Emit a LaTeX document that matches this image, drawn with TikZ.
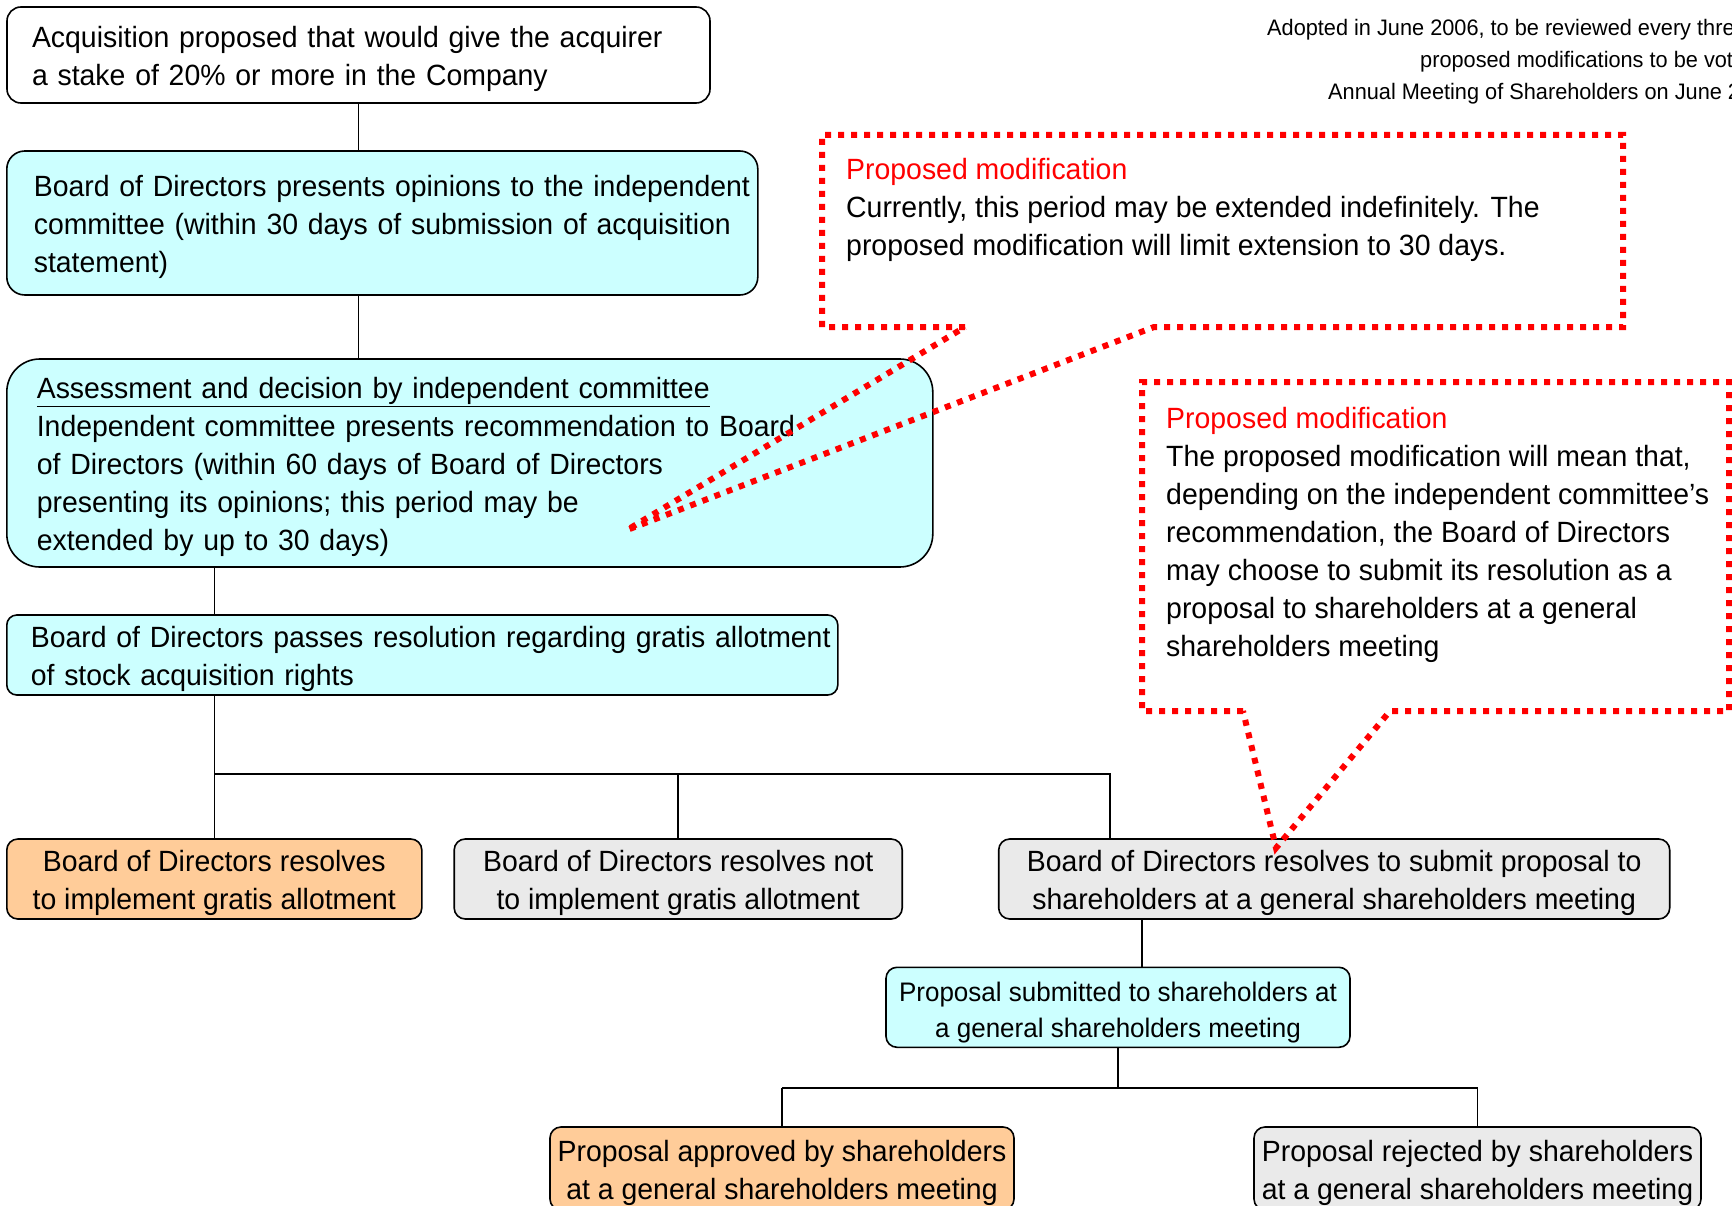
\documentclass[tikz,border=0pt]{standalone}
\usepackage{fontspec}
\setmainfont[FakeStretch=0.97]{Liberation Sans}
\usepackage{tikz}

\definecolor{boxcyan}{HTML}{CCFFFF}
\definecolor{boxorange}{HTML}{FFCC99}
\definecolor{boxgrey}{HTML}{EAEAEA}
\newcommand\boxfont{\fontsize{29.3}{38}\selectfont}
\newcommand\meetfont{\fontsize{26.8}{36}\selectfont}
\newcommand\remarkfont{\fontsize{22.4}{32}\selectfont}
\newcommand\lift{\rule{0pt}{30pt}}

\tikzset{
  flowbox/.style={draw, line width=1.6pt, rounded corners=11pt, inner ysep=0pt, minimum height=80pt},
  leftbox/.style={flowbox, align=left},
  midbox/.style={flowbox, align=center},
  link/.style={line width=1.5pt},
  callout/.style={red, line width=6pt, dash pattern=on 6pt off 7pt},
}

\begin{document}
\begin{tikzpicture}[x=1pt,y=-1pt,every node/.style={font=\boxfont}]
\useasboundingbox (0,0) rectangle (1732,1206);

\node[leftbox, fill=white, rounded corners=14pt, inner xsep=25pt, text width=653pt, minimum height=96pt] (acq) at (358.5,55) {\lift Acquisition proposed that would give the acquirer\\a stake of 20\% or more in the Company};
\node[leftbox, fill=boxcyan, rounded corners=18pt, inner xsep=27pt, text width=697pt, minimum height=144pt] (opin) at (382.3,223) {\lift\mbox{Board of Directors presents opinions to the independent}\\\mbox{committee (within 30 days of submission of acquisition}\\statement)};
\node[leftbox, fill=boxcyan, rounded corners=33pt, inner xsep=30pt, text width=866pt, minimum height=208pt] (assess) at (469.8,463) {\lift\underline{Assessment and decision by independent committee}\\Independent committee presents recommendation to Board\\of Directors (within 60 days of Board of Directors\\presenting its opinions; this period may be\\extended by up to 30 days)};
\node[leftbox, fill=boxcyan, rounded corners=10pt, inner xsep=24pt, text width=783pt] (resol) at (422.3,655) {\lift\mbox{Board of Directors passes resolution regarding gratis allotment}\\of stock acquisition rights};

\node[midbox, fill=boxorange, minimum width=415pt] (impl) at (214.3,879) {\lift Board of Directors resolves\\to implement gratis allotment};
\node[midbox, fill=boxgrey, minimum width=448pt] (noimpl) at (678.2,879) {\lift Board of Directors resolves not\\to implement gratis allotment};
\node[midbox, fill=boxgrey, minimum width=671pt] (submit) at (1334.2,879) {\lift Board of Directors resolves to submit proposal to\\shareholders at a general shareholders meeting};
\node[midbox, fill=boxcyan, minimum width=464pt, font=\meetfont] (meet) at (1118,1007.3) {\lift Proposal submitted to shareholders at\\a general shareholders meeting};
\node[midbox, fill=boxorange, minimum width=464pt, minimum height=83pt] (approv) at (782,1168.5) {\lift Proposal approved by shareholders\\at a general shareholders meeting};
\node[midbox, fill=boxgrey, minimum width=447pt, minimum height=83pt] (reject) at (1477.5,1168.5) {\lift Proposal rejected by shareholders\\at a general shareholders meeting};

\node[font=\remarkfont, anchor=base west, inner sep=0pt] (note1) at (1267,36) {Adopted in June 2006, to be reviewed every thre};
\node[font=\remarkfont, anchor=base west, inner sep=0pt] (note2) at (1420,68) {proposed modifications to be vot};
\node[font=\remarkfont, anchor=base west, inner sep=0pt] (note3) at (1328,100) {Annual Meeting of Shareholders on June 2};

\draw[link] (acq.south) -- (acq.south |- opin.north);
\draw[link] (acq.south |- opin.south) -- (acq.south |- assess.north);
\draw[link] (impl.north |- assess.south) -- (impl.north |- resol.north);
\coordinate (bus1) at (1110,774);
\draw[link] (impl.north |- resol.south) -- (impl.north);
\draw[link] (impl.north |- bus1) -- (bus1) -- (bus1 |- submit.north);
\draw[link] (noimpl.north |- bus1) -- (noimpl.north);
\coordinate (drop) at (1142,0);
\draw[link] (drop |- submit.south) -- (drop |- meet.north);
\coordinate (bus2) at (0,1088);
\draw[link] (meet.south) -- (meet.south |- bus2);
\draw[link] (approv.north |- bus2) -- (reject.north |- bus2);
\draw[link] (approv.north |- bus2) -- (approv.north);
\draw[link] (reject.north |- bus2) -- (reject.north);

% proposed modifications
\draw[callout] (965,327) -- (822,327) -- (822,135) -- (1623,135) -- (1623,327) -- (1154,327) -- (627,530) -- cycle;
\node[anchor=north west, inner sep=0pt, align=left] (mod1) at (846,158) {{\color{red}Proposed modification}\\Currently, this period may be extended indefinitely. The\\proposed modification will limit extension to 30 days.};
\draw[callout] (1243,711) -- (1142,711) -- (1142,382) -- (1729,382) -- (1729,711) -- (1390,711) -- (1276,848) -- cycle;
\node[anchor=north west, inner sep=0pt, align=left] (mod2) at (1166,407) {{\color{red}Proposed modification}\\The proposed modification will mean that,\\depending on the independent committee's\\recommendation, the Board of Directors\\may choose to submit its resolution as a\\proposal to shareholders at a general\\shareholders meeting};
\end{tikzpicture}
\end{document}
